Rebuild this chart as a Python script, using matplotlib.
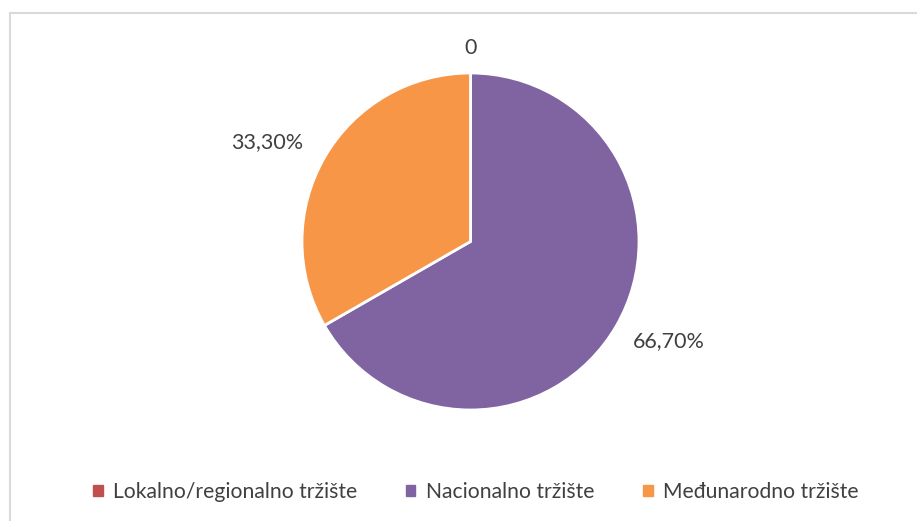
import numpy as np
import matplotlib.pyplot as plt
from matplotlib.patches import Rectangle

categories = ['Lokalno/regionalno tržište', 'Nacionalno tržište', 'Međunarodno tržište']
values = [0.0, 66.70, 33.30]
value_labels = ['0', '66,70%', '33,30%']
colors = ['#C0504D', '#8064A2', '#F79646']

plt.rcParams['font.family'] = ['Lato', 'DejaVu Sans']

W, H = 917, 521
fig = plt.figure(figsize=(W / 100, H / 100), dpi=100)

# light grey frame around the chart area (runs off the right and bottom edges)
fig.patches.append(Rectangle((10 / W, -0.1), 1.2, 1.1 - 13 / H, transform=fig.transFigure,
                             fill=False, edgecolor='#D9D9D9', linewidth=1.5))

cx, cy, r = 470.5, 241.5, 168.5
ax = fig.add_axes([(cx - r) / W, 1 - (cy + r) / H, 2 * r / W, 2 * r / H])
wedges, _ = ax.pie(values, colors=colors, startangle=90, counterclock=False,
                   radius=1.0, wedgeprops=dict(edgecolor='white', linewidth=2))
ax.set_xlim(-1, 1)
ax.set_ylim(-1, 1)
ax.set_aspect('equal')
ax.axis('off')

# data labels outside the slices
label_pos = [(90, 1.15), (-26.7, 1.32), (154, 1.34)]
for lab, (a, d) in zip(value_labels, label_pos):
    ang = np.deg2rad(a)
    ax.text(d * np.cos(ang), d * np.sin(ang), lab, ha='center', va='center',
            fontsize=15.5, color='#404040', clip_on=False)

handles = [plt.Rectangle((0, 0), 1, 1, color=c) for c in colors]
fig.legend(handles, categories, loc='center', bbox_to_anchor=(0.519, 1 - 492 / H),
           ncol=3, frameon=False, fontsize=15.2, handlelength=0.45, handleheight=0.45,
           handletextpad=0.5, columnspacing=2.3, labelcolor='#404040')

fig.savefig('out.png', dpi=100)
